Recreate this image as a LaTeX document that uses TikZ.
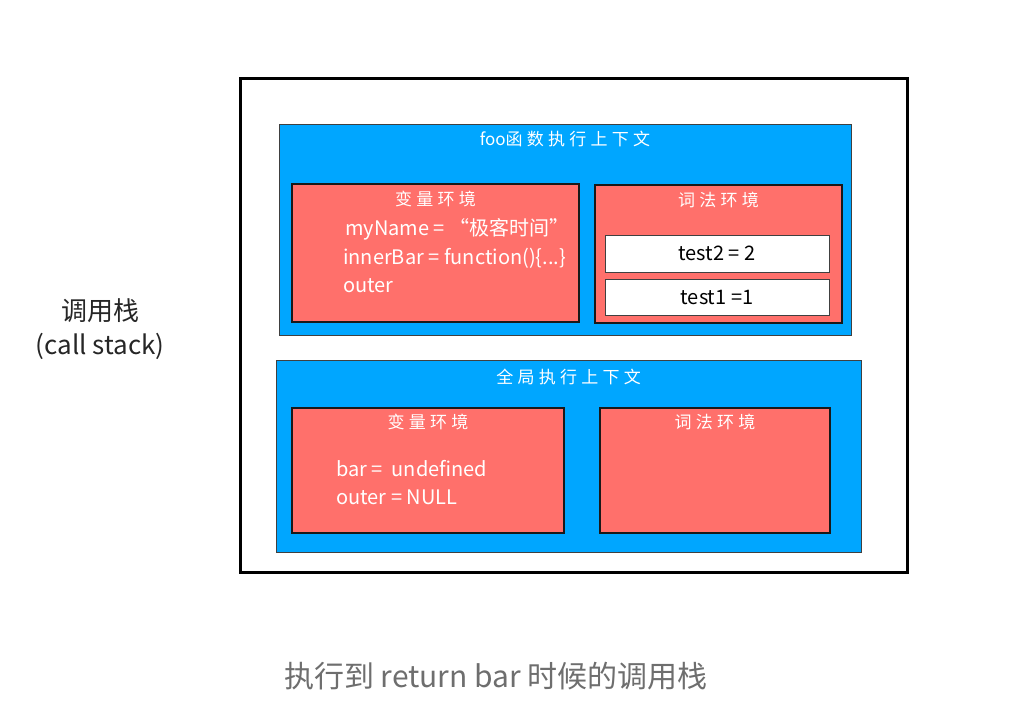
\documentclass[tikz,border=0pt]{standalone}
\usepackage{fontspec}
\setmainfont{Noto Sans CJK SC}
\newfontfamily\titlefont[LetterSpace=25]{Noto Sans CJK SC}
\newfontfamily\plainlatin{Noto Sans CJK SC}
\usetikzlibrary{positioning}

\definecolor{ctxblue}{RGB}{0,166,255}
\definecolor{envred}{RGB}{255,112,107}
\definecolor{capgray}{RGB}{110,110,110}

\tikzset{
    frame/.style={anchor=north west, inner sep=0pt, outer sep=0pt},
    stackbox/.style={frame, draw=black, line width=3pt, fill=white},
    ctxbox/.style={frame, draw=black!75, line width=0.9pt, fill=ctxblue},
    envbox/.style={frame, draw=black!90, line width=1.3pt, fill=envred},
    valbox/.style={frame, draw=black!75, line width=1pt, fill=white,
        font=\fontsize{20}{23}\selectfont},
    boxtitle/.style={text=white, inner sep=2pt, font=\titlefont\fontsize{17}{20}\selectfont},
    envline/.style={text=white, anchor=west, inner sep=0pt, font=\fontsize{20}{23}\selectfont}
}

\begin{document}
\begin{tikzpicture}[x=1pt,y=-1pt]
    \useasboundingbox (0,0) rectangle (1018,716);
    % draw call stack frame
    \node[stackbox, minimum width=667, minimum height=494] (stack) at (240,78) {};
    % foo execution context
    \node[ctxbox, minimum width=572, minimum height=211] (fooctx) at (279,124) {};
    \node[boxtitle, below=5pt of fooctx.north] (footitle) {{\plainlatin foo}函数执行上下文};
    \node[envbox, minimum width=287, minimum height=138] (foovar) at (292,184) {};
    \node[boxtitle, below=5pt of foovar.north] (foovartitle) {变量环境};
    \node[envline] (myname) at (345,229) {myName = “极客时间”};
    \node[envline] (innerbar) at (343,258) {innerBar = function()\{...\}};
    \node[envline] (fooouter) at (343,286) {outer};
    \node[envbox, minimum width=247, minimum height=138] (foolex) at (595,185) {};
    \node[boxtitle, below=5pt of foolex.north] (foolextitle) {词法环境};
    \node[valbox, minimum width=224, minimum height=37] (testtwo) at (605,235) {test2 = 2};
    \node[valbox, minimum width=224, minimum height=36] (testone) at (605,279) {test1 =1};
    % global execution context
    \node[ctxbox, minimum width=585, minimum height=192] (globalctx) at (276,360) {};
    \node[boxtitle, below=7pt of globalctx.north] (globaltitle) {全局执行上下文};
    \node[envbox, minimum width=272, minimum height=125] (globalvar) at (292,408) {};
    \node[boxtitle, below=4pt of globalvar.north] (globalvartitle) {变量环境};
    \node[envline] (barline) at (336,469) {bar = \ undefined};
    \node[envline] (globalouter) at (336,497) {outer = NULL};
    \node[envbox, minimum width=230, minimum height=125] (globallex) at (600,408) {};
    \node[boxtitle, below=4pt of globallex.north] (globallextitle) {词法环境};
    % labels
    \node[font=\fontsize{26}{30}\selectfont, text=black!85] (stacklabel) at (100,311) {调用栈};
    \node[font=\fontsize{26}{30}\selectfont, text=black!85] (stackeng) at (100,346) {(call stack)};
    \node[font=\fontsize{30}{34}\selectfont, text=capgray] (caption) at (496,676) {执行到 return bar 时候的调用栈};
\end{tikzpicture}
\end{document}
